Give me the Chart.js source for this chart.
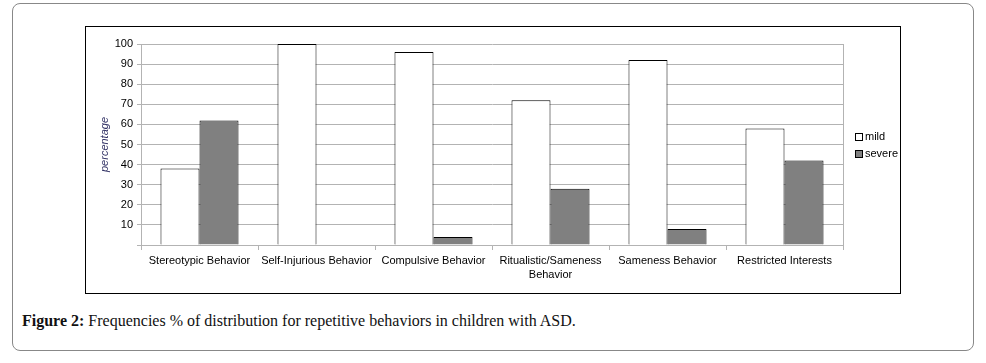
<!DOCTYPE html>
<html lang="en">
<head>
<meta charset="UTF-8">
<title>Figure 2</title>
<script src="https://cdn.jsdelivr.net/npm/chart.js"></script>
<style>
    body {
        margin: 0;
        background: #ffffff;
    }
    .figure {
        position: absolute;
        left: 12px;
        top: 3px;
        width: 960px;
        height: 346px;
        border: 1px solid #888;
        border-radius: 8px;
    }
    .frame {
        position: absolute;
        left: 85px;
        top: 26px;
        width: 814px;
        height: 266px;
        border: 1px solid #000;
    }
    .caption {
        position: absolute;
        left: 22px;
        top: 312px;
        font-family: 'Liberation Serif', serif;
        font-size: 16px;
        color: #111;
        white-space: nowrap;
    }
</style>
</head>
<body>
<div class="figure"></div>
<div class="frame"><canvas id="grafico" width="814" height="266"></canvas></div>
<div class="caption"><b>Figure 2:</b> Frequencies % of distribution for repetitive behaviors in children with ASD.</div>

<script>
// dados
const categorias = [
    "Stereotypic Behavior",
    "Self-Injurious Behavior",
    "Compulsive Behavior",
    ["Ritualistic/Sameness", "Behavior"],
    "Sameness Behavior",
    "Restricted Interests"
];
const leve = [38, 100, 96, 72, 92, 58];
const severo = [62, 0, 4, 28, 8, 42];
const serieNomes = ["mild", "severe"];

const fonte = "'Liberation Sans', Arial, sans-serif";
const cinzaGrade = '#b3b3b3';

// borda direita da área e legenda desenhada à mão
const extras = {
    id: 'extras',
    afterDraw(chart) {
        const ctx = chart.ctx;
        const a = chart.chartArea;
        ctx.save();
        ctx.strokeStyle = cinzaGrade;
        ctx.lineWidth = 1;
        ctx.beginPath();
        ctx.moveTo(Math.round(a.right) + 0.5, a.top);
        ctx.lineTo(Math.round(a.right) + 0.5, a.bottom);
        ctx.stroke();

        ctx.font = '11px ' + fonte;
        ctx.textBaseline = 'middle';
        chart.data.datasets.forEach((ds, i) => {
            const y = 110 + i * 17;
            ctx.fillStyle = ds.backgroundColor;
            ctx.fillRect(769, y - 3, 7, 7);
            ctx.strokeStyle = '#000';
            ctx.strokeRect(769.5, y - 3.5, 7, 7);
            ctx.fillStyle = '#000';
            ctx.fillText(ds.label, 779, y);
        });
        ctx.restore();
    }
};

const ctx = document.getElementById('grafico').getContext('2d');
new Chart(ctx, {
    type: 'bar',
    data: {
        labels: categorias,
        datasets: [
            {
                label: serieNomes[0],
                data: leve,
                backgroundColor: '#ffffff',
                borderColor: '#000000',
                borderWidth: 1,
                borderSkipped: 'start'
            },
            {
                label: serieNomes[1],
                data: severo,
                backgroundColor: '#808080',
                borderColor: '#000000',
                borderWidth: 1,
                borderSkipped: 'start'
            }
        ]
    },
    options: {
        responsive: false,
        animation: false,
        layout: { padding: { top: 17, right: 57, left: 0, bottom: 0 } },
        plugins: {
            legend: { display: false },
            tooltip: { enabled: false }
        },
        datasets: {
            bar: { categoryPercentage: 0.667, barPercentage: 1 }
        },
        scales: {
            x: {
                afterFit(scale) { scale.height = 48; },
                grid: {
                    offset: true,
                    drawOnChartArea: false,
                    tickLength: 5,
                    color: cinzaGrade
                },
                border: { color: cinzaGrade },
                ticks: {
                    color: '#000',
                    padding: 4,
                    maxRotation: 0,
                    autoSkip: false,
                    font: { family: fonte, size: 11, lineHeight: 1.3 }
                }
            },
            y: {
                min: 0,
                max: 100,
                afterFit(scale) { scale.width = 55; },
                grid: { color: cinzaGrade, tickLength: 4 },
                border: { color: cinzaGrade },
                ticks: {
                    stepSize: 10,
                    color: '#000',
                    padding: 4,
                    font: { family: fonte, size: 11 },
                    callback: v => v === 0 ? '' : v
                },
                title: {
                    display: true,
                    text: 'percentage',
                    color: '#333366',
                    padding: { top: 12, bottom: 0 },
                    font: { family: fonte, size: 11, style: 'italic' }
                }
            }
        }
    },
    plugins: [extras]
});
</script>
</body>
</html>
